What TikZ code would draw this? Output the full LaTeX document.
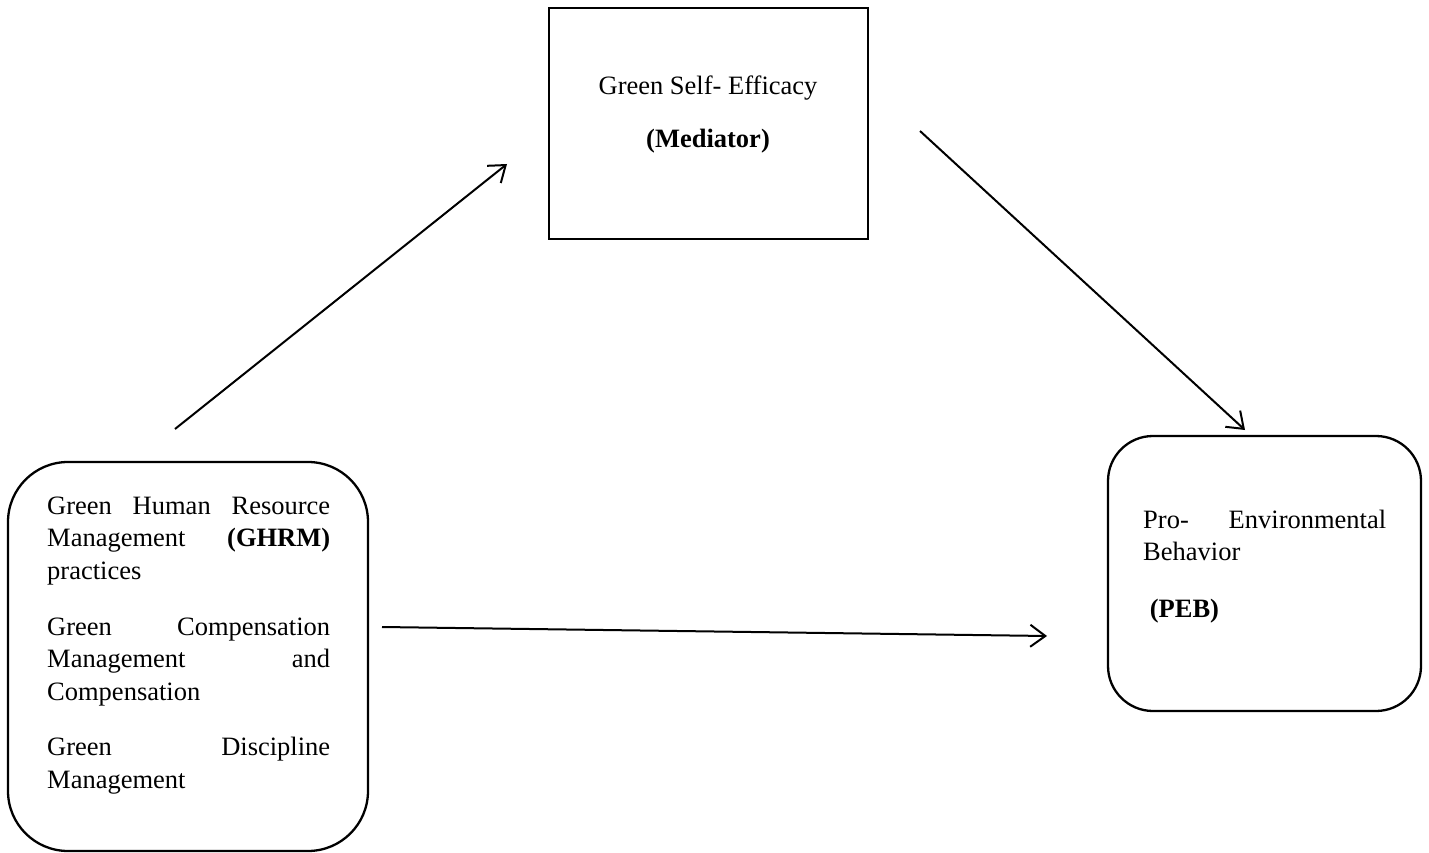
\documentclass[tikz,border=0pt]{standalone}
\usepackage{fontspec}
\setmainfont{Liberation Serif}
\usetikzlibrary{arrows.meta}
\tikzset{
  sqbox/.style={draw, line width=2.3pt, minimum width=319pt, minimum height=231pt, inner sep=0pt},
  rbox/.style={draw, line width=2.3pt, inner sep=0pt},
  bodytext/.style={inner sep=0pt, font=\fontsize{26.5}{32.5}\selectfont},
  link/.style={line width=2pt, -{Straight Barb[length=15pt,width=22pt,line width=2pt]}}
}
\begin{document}
\begin{tikzpicture}[x=1pt,y=-1pt]
\useasboundingbox (0,0) rectangle (1429,853);
% boxes
\node[sqbox, anchor=north west] (med) at (548,7) {};
\draw[rbox, rounded corners=60pt] (8,462) rectangle (368,851);
\draw[rbox, rounded corners=45pt] (1108,436) rectangle (1421,711);
% texts
\node[bodytext, anchor=north, align=center] (medtext) at (708,75.5)
  {Green Self- Efficacy\\[20.5pt]\textbf{(Mediator)}};
\node[bodytext, anchor=north west, text width=283pt, align=justify] (ghrm) at (47,496.5)
  {\tolerance=10000\hyphenpenalty=10000
   Green Human Resource\linebreak Management \textbf{(GHRM)}\linebreak practices\par\vspace{23.5pt}
   Green Compensation\linebreak Management and\linebreak Compensation\par\vspace{23pt}
   Green Discipline\linebreak Management\par};
\node[bodytext, anchor=north west, text width=243pt, align=justify] (peb) at (1143,509.5)
  {\tolerance=10000\hyphenpenalty=10000
   Pro- Environmental\linebreak Behavior\par\vspace{24pt}
   \hspace*{0.25em}\textbf{(PEB)}\par};
% connector ends
\coordinate (s1) at (175,429);
\coordinate (e1) at (507,164);
\coordinate (s2) at (920,131);
\coordinate (e2) at (1245,430);
\coordinate (s3) at (382,627);
\coordinate (e3) at (1047,636);
\draw[link] (s1) -- (e1);
\draw[link] (s2) -- (e2);
\draw[link] (s3) -- (e3);
\end{tikzpicture}
\end{document}
